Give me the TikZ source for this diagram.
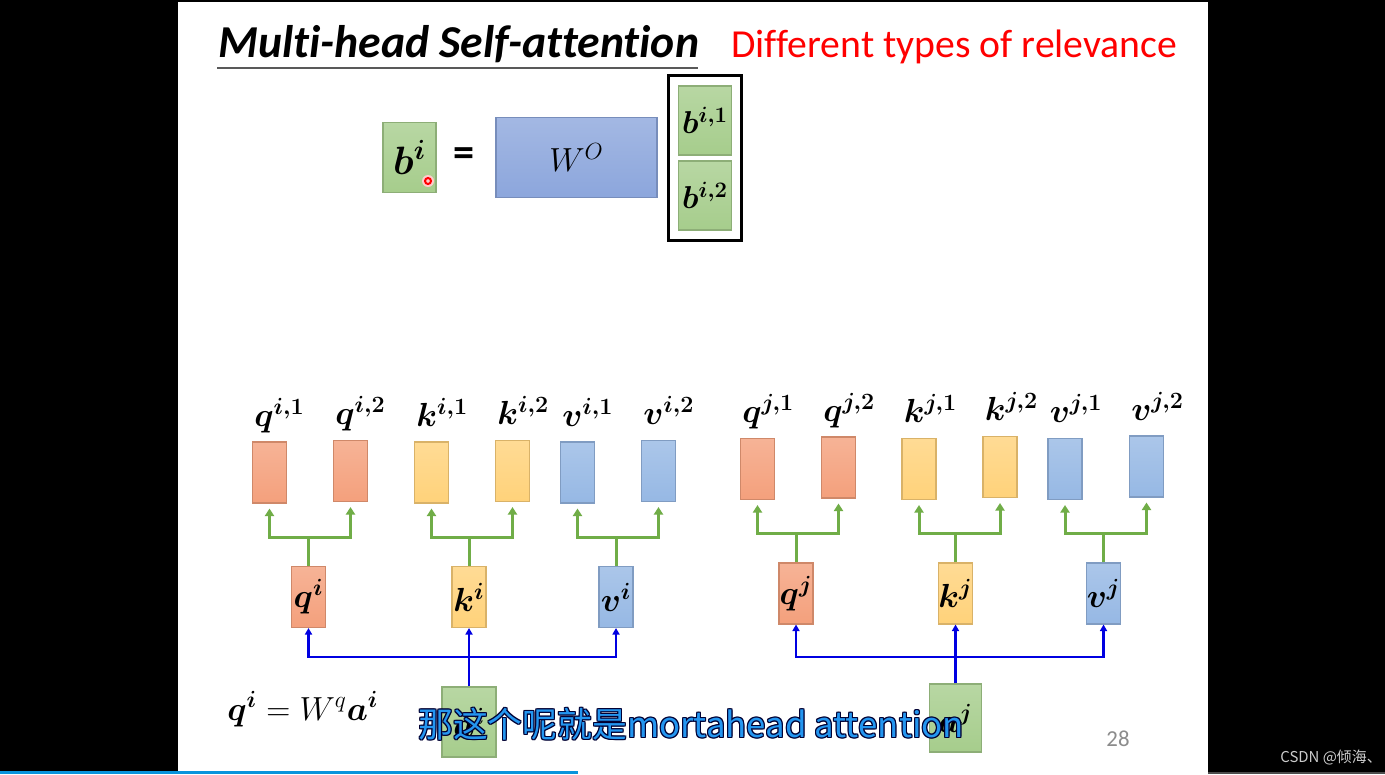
\RequirePackage{fix-cm}
\documentclass[tikz,border=0pt]{standalone}
\usepackage{fontspec}
\usepackage{amsmath,bm}
\usepackage{xcolor}
\usetikzlibrary{positioning, arrows.meta, calc, fit}
\newfontfamily\calibri[Ligatures={NoCommon,NoRare}]{Carlito}
\newfontfamily\cjk{Noto Sans CJK SC}
\definecolor{qcol}{RGB}{244,160,124}
\definecolor{kcol}{RGB}{255,210,122}
\definecolor{vcol}{RGB}{150,184,228}
\definecolor{gcol}{RGB}{166,205,140}
\definecolor{wcol}{RGB}{140,166,220}
\definecolor{splitgreen}{RGB}{112,173,71}
\definecolor{feedblue}{RGB}{0,0,225}
\definecolor{subblue}{RGB}{36,150,240}
\tikzset{
    vec/.style={draw=#1!85!black, top color=#1!80!white, bottom color=#1, line width=0.6pt, minimum width=0.68cm, minimum height=1.22cm, inner sep=0pt}, % coloured vector boxes
    outvec/.style={vec=gcol, minimum width=1.07cm, minimum height=1.38cm}, % the green b boxes
    lbl/.style={inner sep=0pt, font=\fontsize{19}{21}\selectfont}, % head labels
    split/.style={draw=splitgreen, line width=0.06cm, -{Triangle[length=0.15cm, width=0.18cm]}, shorten >=0.1cm}, % green heads
    stem/.style={draw=splitgreen, line width=0.06cm},
    feed/.style={draw=feedblue, line width=0.05cm, -{Triangle[length=0.13cm, width=0.14cm]}}, % blue inputs
}

\begin{document}
\begin{tikzpicture}[x=0.02cm, y=-0.02cm]
    \useasboundingbox (0,0) rectangle (1385,774);
    \clip (0,0) rectangle (1385,774);
    \fill[black] (0,0) rectangle (1385,774);
    \fill[white] (178,2) rectangle (1208,774);

    % title
    \node[inner sep=0pt, anchor=base west] (title) at (218,57) {\calibri\bfseries\itshape\fontsize{26}{30}\selectfont Multi-head Self-attention};
    \draw[black!65, line width=0.03cm] (217,68) -- (698,68);
    \node[inner sep=0pt, anchor=base west, text=red] (relevance) at (731,57) {\calibri\fontsize{22.6}{26}\selectfont Different types of relevance};

    % b^i = W^O [b^{i,1}; b^{i,2}]
    \node[vec=gcol, minimum width=1.06cm, minimum height=1.4cm, font=\fontsize{22.5}{24}\selectfont] (bi) at (409.5,157.5) {$\bm{b^i}$};
    \node[inner sep=0pt, font=\calibri\bfseries\fontsize{24}{26}\selectfont] (eq) at (464,157) {=};
    \node[vec=wcol, minimum width=3.22cm, minimum height=1.6cm, font=\fontsize{19}{21}\selectfont] (WO) at (576.5,157.5) {$W^O$};
    \node[outvec, font=\fontsize{18}{20}\selectfont] (bi1) at (705,120.5) {$\bm{b^{i,1}}$};
    \node[outvec, font=\fontsize{18}{20}\selectfont] (bi2) at (705,195.5) {$\bm{b^{i,2}}$};
    \node[draw, line width=0.06cm, inner sep=0.19cm, fit=(bi1)(bi2)] (bframe) {};
    \fill[red!20] (428,181) circle (6);
    \draw[red, line width=0.04cm] (428,181) circle (3);

    % heads of a^i
    \node[vec=qcol] (qi1) at (269.5,472.5) {};
    \node[vec=qcol] (qi2) at (350.5,471) {};
    \node[vec=kcol] (ki1) at (431.5,472.5) {};
    \node[vec=kcol] (ki2) at (512.5,471) {};
    \node[vec=vcol] (vi1) at (577.5,472.5) {};
    \node[vec=vcol] (vi2) at (658.5,471) {};
    \node[vec=qcol, lbl] (qi) at (308.5,597) {$\bm{q^i}$};
    \node[vec=kcol, lbl] (ki) at (469,597) {$\bm{k^i}$};
    \node[vec=vcol, lbl] (vi) at (616,597) {$\bm{v^i}$};
    \node[outvec, minimum width=1.08cm, minimum height=1.4cm, lbl] (ai) at (469,722) {$\bm{a^i}$};

    % heads of a^j
    \node[vec=qcol] (qj1) at (757.5,469) {};
    \node[vec=qcol] (qj2) at (838.5,467.5) {};
    \node[vec=kcol] (kj1) at (919,469) {};
    \node[vec=kcol] (kj2) at (1000,467) {};
    \node[vec=vcol] (vj1) at (1065,469) {};
    \node[vec=vcol] (vj2) at (1146.5,466.5) {};
    \node[vec=qcol, lbl] (qj) at (796,593.5) {$\bm{q^j}$};
    \node[vec=kcol, lbl] (kj) at (955.5,593.5) {$\bm{k^j}$};
    \node[vec=vcol, lbl] (vj) at (1103.5,593.5) {$\bm{v^j}$};
    \node[outvec, minimum width=1.04cm, minimum height=1.36cm, lbl] (aj) at (955.5,718) {$\bm{a^j}$};

    \foreach \n/\t in {qi1/q^{i,1}, qi2/q^{i,2}, ki1/k^{i,1}, ki2/k^{i,2}, vi1/v^{i,1}, vi2/v^{i,2},
                       qj1/q^{j,1}, qj2/q^{j,2}, kj1/k^{j,1}, kj2/k^{j,2}, vj1/v^{j,1}, vj2/v^{j,2}}
        \node[lbl, anchor=base west] (\n-l) at ($(\n.north west)+(2,-15)$) {$\bm{\t}$};

    % split every vector into two heads
    \foreach \v/\y in {qi/537, ki/537, vi/537, qj/533, kj/533, vj/533} {
        \draw[stem] (\v) -- (\v.north |- 0,\y) coordinate (\v-s);
        \draw[split] (\v-s) -| (\v1);
        \draw[split] (\v-s) -| (\v2);
    }

    % inputs
    \coordinate (ai-s) at (469,657);
    \coordinate (aj-s) at (955.5,657);
    \draw[feed] (ai) -- (ki);
    \draw[feed] (ai-s) -| (qi);
    \draw[feed] (ai-s) -| (vi);
    \draw[feed] (aj) -- (kj);
    \draw[feed] (aj-s) -| (qj);
    \draw[feed] (aj-s) -| (vj);

    \node[inner sep=0pt, anchor=base west, font=\fontsize{19}{21}\selectfont] (qdef) at (227,720) {$\bm{q^i} = W^q\bm{a^i}$};
    \node[inner sep=0pt, text=black!45, font=\calibri\fontsize{13}{15}\selectfont] (page) at (1118,739) {28};

    % subtitle of the video
    \foreach \dx/\dy [count=\n] in {-1/0, 1/0, 0/-1, 0/1, -1/-1, 1/1, -1/1, 1/-1}
        \node[inner sep=0pt, anchor=base west, text=black!80!blue, font=\cjk\fontsize{19.8}{24}\selectfont] (sub\n) at (418+\dx,737+\dy) {那这个呢就是mortahead attention};
    \node[inner sep=0pt, anchor=base west, text=subblue, font=\cjk\fontsize{19.8}{24}\selectfont] (sub) at (418,737) {那这个呢就是mortahead attention};

    \node[inner sep=0pt, anchor=base west, text=black!20, font=\cjk\fontsize{8.5}{10}\selectfont] (csdn) at (1280,762) {CSDN @倾海、};
    \fill[black!70] (1208,772) rectangle (1385,774);
    \fill[cyan!80!blue] (0,771) rectangle (578,774);
\end{tikzpicture}
\end{document}
